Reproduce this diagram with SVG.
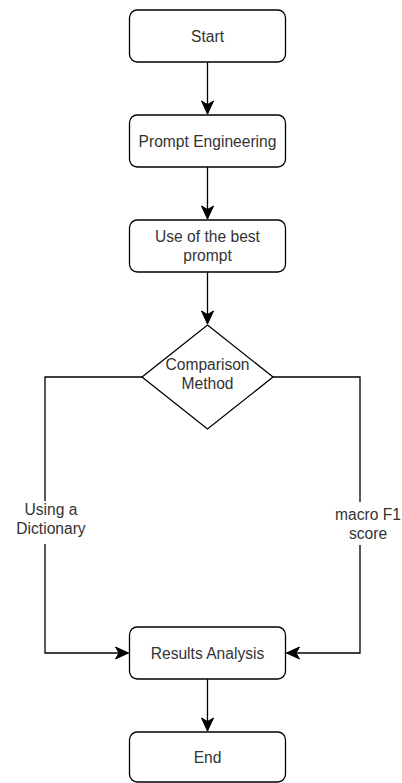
<svg xmlns="http://www.w3.org/2000/svg" width="402" height="783" viewBox="0 0 402 783">
<style>
.box{fill:#fff;stroke:#000;stroke-width:1.3}
.lbl{font-family:"Liberation Sans",Arial,sans-serif;font-size:15.6px;fill:#333;text-anchor:middle}
.edge{fill:none;stroke:#000;stroke-width:1.3}
</style>
<defs>
<marker id="arr" markerUnits="userSpaceOnUse" viewBox="-14 -7 15 14" refX="0" refY="0" markerWidth="15" markerHeight="14" orient="auto">
<path d="M0,0 L-13,-6 L-9.5,0 L-13,6 Z" fill="#000" stroke="#000" stroke-width="1"/>
</marker>
</defs>
<rect width="402" height="783" fill="#fff"/>
<g id="connectors">
<path class="edge" d="M207.5,62 L207.5,114" marker-end="url(#arr)"/>
<path class="edge" d="M207.5,167 L207.5,219" marker-end="url(#arr)"/>
<path class="edge" d="M207.5,272 L207.5,324" marker-end="url(#arr)"/>
<path class="edge" d="M142,377 L45,377 L45,653 L128.5,653" marker-end="url(#arr)"/>
<path class="edge" d="M273,377 L360,377 L360,653 L286.5,653" marker-end="url(#arr)"/>
<path class="edge" d="M207.5,679 L207.5,731" marker-end="url(#arr)"/>
<g id="label-dictionary">
<rect x="14" y="501" width="74" height="43" fill="#fff"/>
<text class="lbl" x="51" y="515">Using a</text>
<text class="lbl" x="51" y="533.5">Dictionary</text>
</g>
<g id="label-macro">
<rect x="334" y="502" width="68" height="43" fill="#fff"/>
<text class="lbl" x="368" y="520">macro F1</text>
<text class="lbl" x="368" y="538.5">score</text>
</g>
</g>
<g id="start">
<rect class="box" x="129.5" y="10" width="156" height="52" rx="7.8"/>
<text class="lbl" x="207.5" y="41.5">Start</text>
</g>
<g id="prompt-engineering">
<rect class="box" x="129.5" y="115" width="156" height="52" rx="7.8"/>
<text class="lbl" x="207.5" y="146.5">Prompt Engineering</text>
</g>
<g id="best-prompt">
<rect class="box" x="129.5" y="220" width="156" height="52" rx="7.8"/>
<text class="lbl" x="207.5" y="241.7">Use of the best</text>
<text class="lbl" x="207.5" y="260.5">prompt</text>
</g>
<g id="comparison">
<polygon class="box" points="207.5,325 273,377 207.5,429 142,377"/>
<text class="lbl" x="207.5" y="370">Comparison</text>
<text class="lbl" x="207.5" y="389">Method</text>
</g>
<g id="results">
<rect class="box" x="129.5" y="627" width="156" height="52" rx="7.8"/>
<text class="lbl" x="207.5" y="658.5">Results Analysis</text>
</g>
<g id="end">
<rect class="box" x="129.5" y="732" width="156" height="50" rx="7.8"/>
<text class="lbl" x="207.5" y="763">End</text>
</g>
</svg>
